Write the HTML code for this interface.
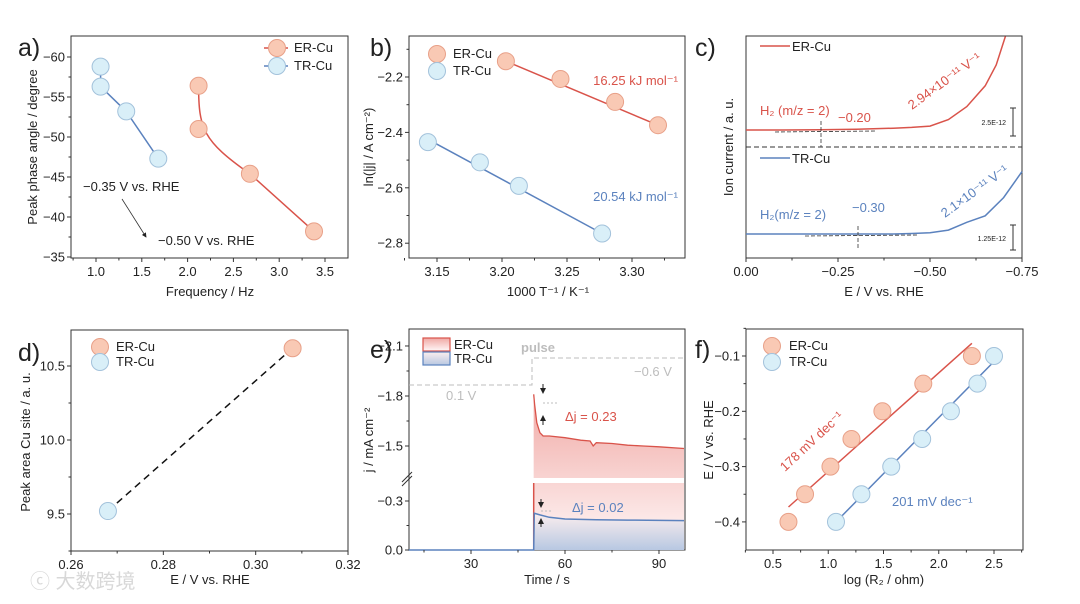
<!DOCTYPE html>
<html><head><meta charset="utf-8"><style>
html,body{margin:0;padding:0;background:#fff;}
svg{display:block;font-family:"Liberation Sans","Noto Sans CJK SC",sans-serif;}
</style></head><body>
<svg id="fig" width="1080" height="604" viewBox="0 0 1080 604" xmlns="http://www.w3.org/2000/svg">
<defs>
<linearGradient id="gr" x1="0" y1="0" x2="0" y2="1"><stop offset="0" stop-color="#f0a8a4"/><stop offset="1" stop-color="#fff8f8"/></linearGradient>
<linearGradient id="gb" x1="0" y1="0" x2="0" y2="1"><stop offset="0" stop-color="#fbeeee"/><stop offset="1" stop-color="#b8c8e2"/></linearGradient>
<marker id="ah" markerWidth="6" markerHeight="6" refX="5" refY="3" orient="auto"><path d="M0,0 L6,3 L0,6 z" fill="#222"/></marker>
</defs>
<g id="root"></g>
<text x="30" y="588" font-size="20" fill="#d8d8d8">ⓒ 大数跨境</text>
</svg>
<script>
// ---- data ----
const aTRfreq=[1.05,1.05,1.33,1.68];
const aTRangle=[-58.8,-56.3,-53.2,-47.3];
const aERfreq=[2.12,2.12,2.68,3.38];
const aERangle=[-56.4,-51.0,-45.4,-38.2];
const bERx=[3.203,3.245,3.287,3.320];
const bERy=[-2.143,-2.207,-2.290,-2.374];
const bTRx=[3.143,3.183,3.213,3.277];
const bTRy=[-2.435,-2.508,-2.593,-2.765];
const cERE=[0,-0.1,-0.2,-0.3,-0.4,-0.45,-0.5,-0.55,-0.6,-0.65,-0.68,-0.705];
const cERI=[0,0,0.01,0.03,0.07,0.1,0.15,0.4,0.9,1.7,2.5,3.6];
const cTRE=[0,-0.1,-0.2,-0.3,-0.4,-0.45,-0.5,-0.55,-0.6,-0.65,-0.7,-0.75];
const cTRI=[0,0,0,0,0,0.02,0.05,0.15,0.45,0.7,1.4,2.4];
const dE=[0.268,0.308];
const dArea=[9.52,10.62];
const eERt=[50,50.3,51,52,53,55,60,65,68,69,70,75,80,85,90,98];
const eERj=[-1.81,-1.75,-1.64,-1.58,-1.56,-1.56,-1.55,-1.535,-1.53,-1.50,-1.52,-1.515,-1.505,-1.5,-1.495,-1.485];
const eTRt=[10,50,50.2,52,55,60,70,80,98];
const eTRj=[0,0,-0.225,-0.215,-0.2,-0.19,-0.185,-0.183,-0.18];
const fERx=[0.64,0.79,1.02,1.21,1.49,1.86,2.30];
const fERy=[-0.40,-0.35,-0.30,-0.25,-0.20,-0.15,-0.10];
const fTRx=[1.07,1.30,1.57,1.85,2.11,2.35,2.50];
const fTRy=[-0.40,-0.35,-0.30,-0.25,-0.20,-0.15,-0.10];
const aXticks=["1.0","1.5","2.0","2.5","3.0","3.5"];
const aYticks=["−60","−55","−50","−45","−40","−35"];
const bXticks=["3.15","3.20","3.25","3.30"];
const bYticks=["−2.2","−2.4","−2.6","−2.8"];
const cXticks=["0.00","−0.25","−0.50","−0.75"];
const dXticks=["0.26","0.28","0.30","0.32"];
const dYticks=["9.5","10.0","10.5"];
const eXticks=["30","60","90"];
const fXticks=["0.5","1.0","1.5","2.0","2.5"];
const fYticks=["−0.1","−0.2","−0.3","−0.4"];

const NS="http://www.w3.org/2000/svg";
const root=document.getElementById('root');
const RED="#d9534a",BLUE="#5b82be",ERF="#f9c9b4",ERS="#e8a088",TRF="#d9eff8",TRS="#a3c2db";
function el(tag,attrs,parent,txt){const e=document.createElementNS(NS,tag);for(const k in attrs)e.setAttribute(k,attrs[k]);if(txt!==undefined)e.textContent=txt;(parent||root).appendChild(e);return e;}
function txt(x,y,s,opt,name){const o=Object.assign({x:x,y:y,'font-size':13,fill:'#222'},opt||{});const t=el('text',o,null,s);

return t;}
function frame(l,t,r,b,name){const f=el('rect',{x:l,y:t,width:r-l,height:b-t,fill:'none',stroke:'#333','stroke-width':1});

}
function xtick(x,b,lab,major){el('line',{x1:x,y1:b,x2:x,y2:b+(major?4:2.5),stroke:'#333'});if(lab!==null)txt(x,b+18,lab,{'text-anchor':'middle'},'x-tick-label');}
function ytick(y,l,lab,major){el('line',{x1:l,y1:y,x2:l-(major?4:2.5),y2:y,stroke:'#333'});if(lab!==null)txt(l-6,y+4.5,lab,{'text-anchor':'end'},'y-tick-label');}
function dot(x,y,f,s,name){const c=el('circle',{cx:x,cy:y,r:8.5,fill:f,stroke:s,'stroke-width':1});

}
function poly(pts,stroke,opt,name){const p=el('polyline',Object.assign({points:pts.map(p=>p[0].toFixed(1)+','+p[1].toFixed(1)).join(' '),fill:'none',stroke:stroke,'stroke-width':1.5},opt||{}));

return p;}
function ytitle(x,y,s,name){const t=txt(x,y,s,{'text-anchor':'middle',transform:'rotate(-90 '+x+' '+y+')'},name);return t;}
function plabel(x,y,s){txt(x,y,s,{'font-size':25},'panel-label');}

// ===== Panel a =====
(function(){const L=71,R=348,T=36,B=258;
const X=v=>96+(v-1.0)*91.6, Y=v=>257+(v+35)*8;
frame(L,T,R,B,'panel-a-frame');
for(let i=0;i<aXticks.length;i++)xtick(X(1+0.5*i),B,aXticks[i],true);
for(let i=0;i<6;i++)xtick(X(0.75+0.5*i),B,null,false);
for(let i=0;i<aYticks.length;i++)ytick(Y(-60+5*i),L,aYticks[i],true);
for(let i=0;i<5;i++)ytick(Y(-57.5+5*i),L,null,false);
txt(210,296,"Frequency / Hz",{'text-anchor':'middle'},'x-axis-title');
ytitle(37,147,"Peak phase angle / degree",'y-axis-title');
poly(aTRfreq.map((f,i)=>[X(f),Y(aTRangle[i])]),BLUE,{},'tr-line');
const p=el('path',{d:`M${X(aERfreq[0])},${Y(aERangle[0])} C${X(aERfreq[0])},${Y(aERangle[1])} ${X(aERfreq[1]+0.05)},${Y(aERangle[1]+1.5)} ${X(aERfreq[2])},${Y(aERangle[2])} L${X(aERfreq[3])},${Y(aERangle[3])}`,fill:'none',stroke:RED,'stroke-width':1.5});


aTRfreq.forEach((f,i)=>dot(X(f),Y(aTRangle[i]),TRF,TRS,'tr-point'));
aERfreq.forEach((f,i)=>dot(X(f),Y(aERangle[i]),ERF,ERS,'er-point'));
el('line',{x1:264,y1:48,x2:290,y2:48,stroke:RED,'stroke-width':1.5,'stroke-dasharray':'6 3'});dot(277,48,ERF,ERS,'legend-er-marker');txt(294,52,"ER-Cu",{},'legend-er');
el('line',{x1:264,y1:66,x2:290,y2:66,stroke:BLUE,'stroke-width':1.5,'stroke-dasharray':'6 3'});dot(277,66,TRF,TRS,'legend-tr-marker');txt(294,70,"TR-Cu",{},'legend-tr');
txt(83,191,"−0.35 V vs. RHE",{},'annotation');txt(158,245,"−0.50 V vs. RHE",{},'annotation');
el('line',{x1:122,y1:199,x2:146,y2:237,stroke:'#333','stroke-width':0.8,'marker-end':'url(#ah)'});
plabel(18,56,"a)");})();

// ===== Panel b =====
(function(){const L=409,R=685,T=36,B=258;
const X=v=>437+(v-3.15)*1300, Y=v=>77-(v+2.2)*277;
frame(L,T,R,B,'panel-b-frame');
for(let i=0;i<bXticks.length;i++)xtick(X(3.15+0.05*i),B,bXticks[i],true);
for(let i=0;i<5;i++)xtick(X(3.125+0.05*i),B,null,false);
for(let i=0;i<bYticks.length;i++)ytick(Y(-2.2-0.2*i),L,bYticks[i],true);
for(let i=0;i<4;i++)ytick(Y(-2.1-0.2*i),L,null,false);
txt(548,296,"1000 T⁻¹ / K⁻¹",{'text-anchor':'middle'},'x-axis-title');
ytitle(373,147,"ln(|j| / A cm⁻²)",'y-axis-title');
poly([[X(bERx[0]),Y(bERy[0])],[X(bERx[3]),Y(bERy[3])]],RED,{},'er-fit');
poly([[X(bTRx[0]),Y(bTRy[0]+0.01)],[X(bTRx[3]),Y(bTRy[3])]],BLUE,{},'tr-fit');
bERx.forEach((v,i)=>dot(X(v),Y(bERy[i]),ERF,ERS,'er-point'));
bTRx.forEach((v,i)=>dot(X(v),Y(bTRy[i]),TRF,TRS,'tr-point'));
dot(437,54,ERF,ERS,'legend-er-marker');txt(453,58,"ER-Cu",{},'legend-er');
dot(437,71,TRF,TRS,'legend-tr-marker');txt(453,75,"TR-Cu",{},'legend-tr');
txt(678,85,"16.25 kJ mol⁻¹",{'text-anchor':'end',fill:RED},'er-ea-label');
txt(678,201,"20.54 kJ mol⁻¹",{'text-anchor':'end',fill:BLUE},'tr-ea-label');
plabel(370,56,"b)");})();

// ===== Panel c =====
(function(){const L=746,R=1022,T=36,B=258;
const X=v=>746+(-v)*368, YE=v=>130-v*26, YT=v=>234-v*26;
frame(L,T,R,B,'panel-c-frame');
for(let i=0;i<cXticks.length;i++)xtick(X(-0.25*i),B,cXticks[i],true);
for(let i=0;i<3;i++)xtick(X(-0.125-0.25*i),B,null,false);
txt(884,296,"E / V vs. RHE",{'text-anchor':'middle'},'x-axis-title');
ytitle(733,147,"Ion current / a. u.",'y-axis-title');
el('line',{x1:L,y1:147,x2:R,y2:147,stroke:'#333','stroke-dasharray':'5 3'});
poly(cERE.map((e,i)=>[X(e),YE(cERI[i])]),RED,{},'er-curve');
poly(cTRE.map((e,i)=>[X(e),YT(cTRI[i])]),BLUE,{},'tr-curve');
el('line',{x1:775,y1:132,x2:875,y2:131,stroke:'#333','stroke-dasharray':'4 2','stroke-width':0.8});
el('line',{x1:821,y1:121,x2:821,y2:147,stroke:'#333','stroke-dasharray':'4 2','stroke-width':0.8});
el('line',{x1:805,y1:236,x2:918,y2:235,stroke:'#333','stroke-dasharray':'4 2','stroke-width':0.8});
el('line',{x1:858,y1:226,x2:858,y2:250,stroke:'#333','stroke-dasharray':'4 2','stroke-width':0.8});
el('line',{x1:760,y1:46,x2:790,y2:46,stroke:RED,'stroke-width':1.5});txt(792,51,"ER-Cu",{},'legend-er');
el('line',{x1:760,y1:158,x2:790,y2:158,stroke:BLUE,'stroke-width':1.5});txt(792,163,"TR-Cu",{},'legend-tr');
txt(760,115,"H₂ (m/z = 2)",{fill:RED},'er-h2-label');txt(838,122,"−0.20",{fill:RED},'er-onset');
txt(760,219,"H₂(m/z = 2)",{fill:BLUE},'tr-h2-label');txt(852,212,"−0.30",{fill:BLUE},'tr-onset');
txt(912,110,"2.94×10⁻¹¹ V⁻¹",{fill:RED,transform:'rotate(-36 912 110)'},'er-slope');
txt(945,218,"2.1×10⁻¹¹ V⁻¹",{fill:BLUE,transform:'rotate(-36 945 218)'},'tr-slope');
el('path',{d:'M1010,108 h6 M1013,108 v28 M1010,136 h6',stroke:'#333',fill:'none'});txt(1006,125,"2.5E-12",{'font-size':7,'text-anchor':'end'},'scale-bar-er');
el('path',{d:'M1010,225 h6 M1013,225 v25 M1010,250 h6',stroke:'#333',fill:'none'});txt(1006,241,"1.25E-12",{'font-size':7,'text-anchor':'end'},'scale-bar-tr');
plabel(695,56,"c)");})();

// ===== Panel d =====
(function(){const L=71,R=348,T=330,B=551;
const X=v=>71+(v-0.26)*4617, Y=v=>514-(v-9.5)*148;
frame(L,T,R,B,'panel-d-frame');
for(let i=0;i<dXticks.length;i++)xtick(X(0.26+0.02*i),B,dXticks[i],true);
for(let i=0;i<3;i++)xtick(X(0.27+0.02*i),B,null,false);
for(let i=0;i<dYticks.length;i++)ytick(Y(9.5+0.5*i),L,dYticks[i],true);
for(let i=0;i<3;i++)ytick(Y(9.25+0.5*i),L,null,false);
txt(210,584,"E / V vs. RHE",{'text-anchor':'middle'},'x-axis-title');
ytitle(30,442,"Peak area Cu site / a. u.",'y-axis-title');
poly(dE.map((e,i)=>[X(e),Y(dArea[i])]),'#111',{'stroke-dasharray':'7 5'},'trend-line');
dot(X(dE[0]),Y(dArea[0]),TRF,TRS,'tr-point');dot(X(dE[1]),Y(dArea[1]),ERF,ERS,'er-point');
dot(100,347,ERF,ERS,'legend-er-marker');txt(116,351,"ER-Cu",{},'legend-er');
dot(100,362,TRF,TRS,'legend-tr-marker');txt(116,366,"TR-Cu",{},'legend-tr');
plabel(18,361,"d)");})();

// ===== Panel e =====
(function(){const L=409,R=685,T=329,B=550;
const X=v=>471+(v-30)*3.133;
const Y=v=> v>-0.45 ? 550+v*163.3 : 446+(v+1.5)*166.7;
frame(L,T,R,B,'panel-e-frame');
const erPts=eERt.map((t,i)=>[X(t),Y(eERj[i])]);
const a1=el('path',{d:'M'+erPts.map(p=>p.join(',')).join(' L')+` L${X(98)},${B} L${X(50)},${B} Z`,fill:'url(#gr)'});


const trPts=eTRt.map((t,i)=>[X(t),Y(eTRj[i])]);
const a2=el('path',{d:'M'+trPts.slice(1).map(p=>p.join(',')).join(' L')+` L${X(98)},${B} L${X(50)},${B} Z`,fill:'url(#gb)'});


el('rect',{x:L+1,y:478,width:R-L-2,height:5,fill:'#fff'});
poly([[X(50),B],[X(50),481]],RED,{},'er-step');
poly(erPts,RED,{'stroke-width':1.3},'er-curve');
poly(trPts,BLUE,{},'tr-curve');
el('rect',{x:L+1,y:478,width:R-L-2,height:5,fill:'#fff'});
el('path',{d:'M402,486 L412,476 M402,482 L412,472',stroke:'#333'});
for(let i=0;i<eXticks.length;i++)xtick(X(30+30*i),B,eXticks[i],true);
for(let i=0;i<3;i++)xtick(X(15+30*i),B,null,false);
ytick(Y(0),L,"0.0",true);ytick(Y(-0.3),L,"−0.3",true);ytick(Y(-0.15),L,null,false);
ytick(Y(-1.5),L,"−1.5",true);ytick(Y(-1.8),L,"−1.8",true);ytick(Y(-2.1),L,"−2.1",true);
ytick(Y(-1.65),L,null,false);ytick(Y(-1.95),L,null,false);
txt(547,584,"Time / s",{'text-anchor':'middle'},'x-axis-title');
ytitle(373,440,"j / mA cm⁻²",'y-axis-title');
const g='#bdbdbd';
el('path',{d:`M${L},385 H532 V358 H${R}`,stroke:g,fill:'none','stroke-dasharray':'5 3'});
txt(521,352,"pulse",{fill:g,'font-weight':'bold'},'pulse-label');
txt(446,400,"0.1 V",{fill:g},'low-potential-label');txt(634,376,"−0.6 V",{fill:g},'high-potential-label');
el('line',{x1:543,y1:384,x2:543,y2:393,stroke:'#222','marker-end':'url(#ah)'});
el('line',{x1:543,y1:403,x2:557,y2:403,stroke:g,'stroke-dasharray':'2 2'});
el('line',{x1:543,y1:425,x2:543,y2:416,stroke:'#222','marker-end':'url(#ah)'});
el('line',{x1:541,y1:499,x2:541,y2:507,stroke:'#222','marker-end':'url(#ah)'});
el('line',{x1:541,y1:511,x2:553,y2:511,stroke:g,'stroke-dasharray':'2 2'});
el('line',{x1:541,y1:527,x2:541,y2:519,stroke:'#222','marker-end':'url(#ah)'});
txt(565,421,"Δj = 0.23",{fill:RED},'er-delta');txt(572,512,"Δj = 0.02",{fill:BLUE},'tr-delta');
el('rect',{x:423,y:338,width:27,height:13,fill:'url(#gr)',stroke:RED,'stroke-width':1.2});txt(454,349,"ER-Cu",{},'legend-er');
el('rect',{x:423,y:352,width:27,height:13,fill:'url(#gb)',stroke:BLUE,'stroke-width':1.2});txt(454,363,"TR-Cu",{},'legend-tr');
plabel(370,358,"e)");})();

// ===== Panel f =====
(function(){const L=746,R=1023,T=329,B=550;
const X=v=>773+(v-0.5)*110.5, Y=v=>356-(v+0.1)*553;
frame(L,T,R,B,'panel-f-frame');
for(let i=0;i<fXticks.length;i++)xtick(X(0.5+0.5*i),B,fXticks[i],true);
for(let i=0;i<6;i++)xtick(X(0.25+0.5*i),B,null,false);
for(let i=0;i<fYticks.length;i++)ytick(Y(-0.1-0.1*i),L,fYticks[i],true);
for(let i=0;i<4;i++)ytick(Y(-0.05-0.1*i),L,null,false);
txt(884,584,"log (R₂ / ohm)",{'text-anchor':'middle'},'x-axis-title');
ytitle(713,440,"E / V vs. RHE",'y-axis-title');
poly([[X(fERx[0]),Y(-0.373)],[X(fERx[6]),Y(-0.077)]],RED,{},'er-fit');
poly([[X(fTRx[0]),Y(-0.40)],[X(fTRx[6]),Y(-0.11)]],BLUE,{},'tr-fit');
fERx.forEach((v,i)=>dot(X(v),Y(fERy[i]),ERF,ERS,'er-point'));
fTRx.forEach((v,i)=>dot(X(v),Y(fTRy[i]),TRF,TRS,'tr-point'));
dot(772,346,ERF,ERS,'legend-er-marker');txt(789,350,"ER-Cu",{},'legend-er');
dot(772,362,TRF,TRS,'legend-tr-marker');txt(789,366,"TR-Cu",{},'legend-tr');
txt(785,472,"178 mV dec⁻¹",{fill:RED,transform:'rotate(-43 785 472)'},'er-tafel');
txt(892,506,"201 mV dec⁻¹",{fill:BLUE},'tr-tafel');
plabel(695,358,"f)");})();
</script>
</body></html>
